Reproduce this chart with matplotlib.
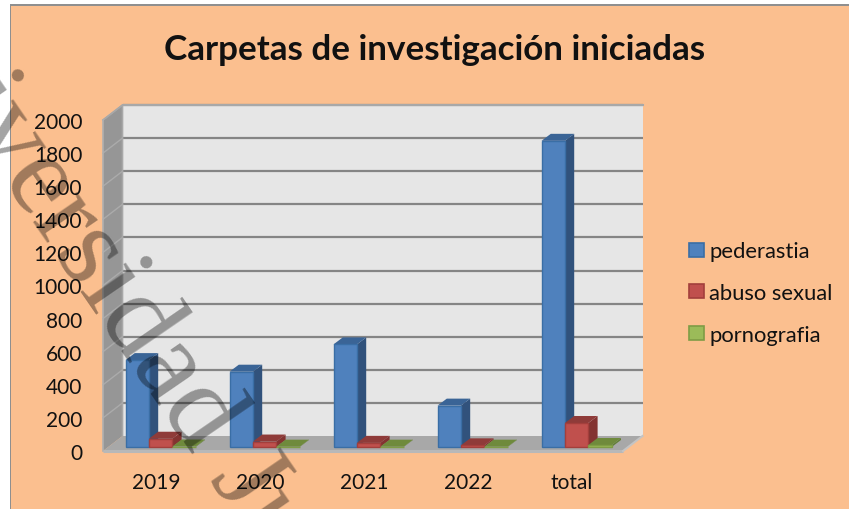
import matplotlib
matplotlib.use("Agg")
import matplotlib.pyplot as plt
from matplotlib.patches import Polygon, Rectangle, Patch
from matplotlib.transforms import ScaledTranslation

categories = ["2019", "2020", "2021", "2022", "total"]
pederastia = [525, 455, 620, 250, 1850]
abuso_sexual = [50, 33, 25, 10, 145]
pornografia = [3, 2, 2, 2, 12]
series_names = ["pederastia", "abuso sexual", "pornografia"]
yticks = list(range(0, 2001, 200))

W, H = 849, 510
FONT = "Lato"
fig = plt.figure(figsize=(W / 100, H / 100), dpi=100, facecolor="#FBBF8F")

# white page margin on the left and top, with the chart's grey border
for rect, col in [((0, 0, 9.5, H), "white"), ((0, H - 5, W, 5), "white"),
                  ((9.5, 0, 1.6, H - 5), "#8f8f8f"), ((9.5, H - 6.5, W, 1.6), "#8f8f8f")]:
    fig.patches.append(Rectangle((rect[0] / W, rect[1] / H), rect[2] / W, rect[3] / H,
                                 transform=fig.transFigure, fc=col, ec="none", zorder=0))

ax = fig.add_axes([103 / W, 1 - 452 / H, 520 / W, 331 / H])
ax.set_xlim(0, 5)
ax.set_ylim(0, 2000)
ax.patch.set_alpha(0)
for s in ax.spines.values():
    s.set_visible(False)

PX = 5 / 520          # data units per pixel, x
PY = 2000 / 331       # data units per pixel, y
WX, WY = 19.5 * PX, 15 * PY       # wall depth
BX, BY = 9.3 * PX, 7 * PY         # bar depth
OX, OY = 5.6 * PX, 4 * PY         # bar offset from front
BW = 23.4 * PX


def poly(pts, fc, ec="none", lw=0, z=1):
    ax.add_patch(Polygon(pts, closed=True, fc=fc, ec=ec, lw=lw, zorder=z, clip_on=False))


# back wall, side wall, floor
poly([(WX, WY), (5 + WX, WY), (5 + WX, 2000 + WY), (WX, 2000 + WY)], "#E6E6E6", z=1)
poly([(0, 0), (WX, WY), (WX, 2000 + WY), (0, 2000)], "#969696", z=1)
poly([(0, 0), (5, 0), (5 + WX, WY), (WX, WY)], "#A8A8A8", z=1)

# gridlines on both walls
for t in yticks[1:]:
    ax.plot([WX, 5 + WX], [t + WY, t + WY], color="#858585", lw=1.6, zorder=2, clip_on=False, solid_capstyle="butt")
    ax.plot([0, WX], [t, t + WY], color="#ABABAB", lw=1.0, zorder=2, clip_on=False)
ax.plot([WX, 5 + WX], [2000 + WY, 2000 + WY], color="#A8A8A8", lw=1.5, zorder=2, clip_on=False)
ax.plot([0, WX, WX], [2000, 2000 + WY, WY], color="#A8A8A8", lw=1.2, zorder=2, clip_on=False)
ax.plot([0, 0], [0, 2000], color="#B0B0B0", lw=1.2, zorder=2, clip_on=False)
ax.plot([0, 5], [0, 0], color="#B8B8B8", lw=2.2, zorder=2, clip_on=False, solid_capstyle="butt")
ax.plot([5, 5 + WX], [0, WY], color="#C4C4C4", lw=1.5, zorder=2, clip_on=False)

styles = [
    ("#4F81BD", "#3A6EA5", "#31527C", "#3A6496"),
    ("#C0504D", "#A33F3C", "#833331", "#8F3B39"),
    ("#9BBB59", "#7F9C45", "#64803A", "#6F8A3C"),
]
data = [pederastia, abuso_sexual, pornografia]

z = 3
for i in range(len(categories)):
    left = i + 0.5 + OX - 1.5 * BW
    for j, values in enumerate(data):
        v = values[i]
        fc, ec, side, top = styles[j]
        x0 = left + j * BW
        poly([(x0 + BW, OY), (x0 + BW + BX, OY + BY), (x0 + BW + BX, OY + BY + v), (x0 + BW, OY + v)], side, z=z)
        poly([(x0, OY + v), (x0 + BW, OY + v), (x0 + BW + BX, OY + v + BY), (x0 + BX, OY + v + BY)], top, z=z)
        ax.bar(x0, v, width=BW, bottom=OY, align="edge", color=fc, edgecolor=ec, linewidth=1.0, zorder=z, clip_on=False)
        z += 1

ax.set_xticks([i + 0.5 for i in range(len(categories))], categories)
ax.set_yticks(yticks, [str(t) for t in yticks])
ax.tick_params(axis="y", length=0, pad=15, labelsize=15, labelcolor="#111111")
ax.tick_params(axis="x", length=0, pad=15, labelsize=15, labelcolor="#111111")
for lab in ax.get_xticklabels() + ax.get_yticklabels():
    lab.set_fontfamily(FONT)
for lab in ax.get_xticklabels():
    lab.set_transform(lab.get_transform() + ScaledTranslation(1 / 100, 0, fig.dpi_scale_trans))

fig.text(435 / W, 1 - 49.5 / H, "Carpetas de investigación iniciadas", ha="center", va="center",
         fontsize=25.2, fontweight="bold", family=FONT, color="#111111")

handles = [Patch(fc=styles[k][0], ec=styles[k][1], lw=1.2, label=series_names[k]) for k in range(3)]
leg = fig.legend(handles=handles, loc="center left", bbox_to_anchor=(689 / W, 1 - 294 / H), frameon=False,
                 prop={"family": FONT, "size": 15.8}, handlelength=0.68, handleheight=0.6,
                 handletextpad=0.24, labelspacing=0.98, borderpad=0, borderaxespad=0)
for t in leg.get_texts():
    t.set_color("#111111")

# diagonal watermark (cut by the picture's edges, as in the reference)
fig.text(-50 / W, 1 - 102 / H, "iversidad Ju", rotation=-55.5, rotation_mode="anchor", ha="left", va="baseline",
         fontsize=84, family="Liberation Serif", color="black", alpha=0.36, zorder=20)

fig.savefig("out.png", dpi=100, facecolor=fig.get_facecolor())
